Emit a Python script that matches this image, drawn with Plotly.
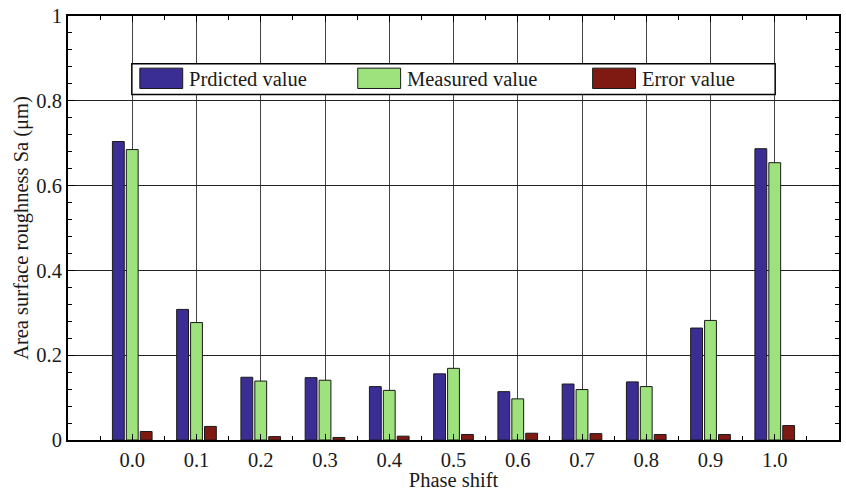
import plotly.graph_objects as go

phase = [0.0, 0.1, 0.2, 0.3, 0.4, 0.5, 0.6, 0.7, 0.8, 0.9, 1.0]
predicted = [0.704, 0.308, 0.148, 0.147, 0.126, 0.156, 0.114, 0.132, 0.137, 0.264, 0.687]
measured = [0.685, 0.277, 0.139, 0.141, 0.117, 0.169, 0.097, 0.119, 0.126, 0.282, 0.654]
error = [0.020, 0.032, 0.008, 0.006, 0.009, 0.013, 0.016, 0.015, 0.013, 0.013, 0.034]
tick_text = ["0.0", "0.1", "0.2", "0.3", "0.4", "0.5", "0.6", "0.7", "0.8", "0.9", "1.0"]

series_names = ["Prdicted value", "Measured value", "Error value"]
colors = ["#3a2e94", "#9de27c", "#7f1a12"]

FONT = "Liberation Serif"

fig = go.Figure()
for name, vals, col in zip(series_names, [predicted, measured, error], colors):
    fig.add_trace(go.Bar(
        x=phase, y=vals, name=name,
        marker=dict(color=col, line=dict(color="#1a1a1a", width=1)),
        showlegend=False,
    ))

# custom legend box (paper coordinates)
L, R, T, B = 68, 841, 15, 442
W, H = 846, 491
def px(x):
    return (x - L) / (R - L)
def py(y):
    return (B - y) / (B - T)

shapes = [dict(type="rect", xref="paper", yref="paper",
               x0=px(132), x1=px(777), y0=py(94), y1=py(63),
               fillcolor="white", line=dict(color="black", width=1.5), layer="above")]
annotations = []
sw_x = [140, 358.5, 594]
for sx, name, col in zip(sw_x, series_names, colors):
    shapes.append(dict(type="rect", xref="paper", yref="paper",
                       x0=px(sx), x1=px(sx + 43), y0=py(88), y1=py(67.5),
                       fillcolor=col, line=dict(color="#1a1a1a", width=1), layer="above"))
    annotations.append(dict(xref="paper", yref="paper", x=px(sx + 47.5), y=py(78.5),
                            text=name, showarrow=False, xanchor="left", yanchor="middle",
                            font=dict(family=FONT, size=20.5, color="#1a1a1a")))

fig.update_layout(
    width=W, height=H,
    margin=dict(l=L, r=W - R, t=T, b=H - B),
    plot_bgcolor="white", paper_bgcolor="white",
    barmode="group", bargap=0.35, bargroupgap=0.15,
    font=dict(family=FONT, size=20.5, color="#1a1a1a"),
    shapes=shapes, annotations=annotations,
    xaxis=dict(
        range=[-0.1, 1.1], tickmode="array", tickvals=phase, ticktext=tick_text,
        showline=True, linecolor="black", linewidth=2, mirror="ticks",
        ticks="inside", ticklen=6, tickcolor="black",
        showgrid=True, gridcolor="#444444", gridwidth=1,
        zeroline=False,
        minor=dict(dtick=0.05, tick0=-0.05, ticks="inside", ticklen=4, tickcolor="black", showgrid=False),
        title=dict(text="Phase shift", standoff=1, font=dict(family=FONT, size=20.5)),
    ),
    yaxis=dict(
        range=[0, 1], dtick=0.2, tick0=0,
        showline=True, linecolor="black", linewidth=2, mirror="ticks",
        ticks="inside", ticklen=7, tickcolor="black",
        showgrid=True, gridcolor="#222222", gridwidth=1,
        zeroline=False,
        minor=dict(dtick=0.04, ticks="inside", ticklen=4, tickcolor="black", showgrid=False),
        title=dict(text="Area surface roughness Sa (μm)", standoff=2, font=dict(family=FONT, size=20.5)),
    ),
)

fig.write_html("out.html")
